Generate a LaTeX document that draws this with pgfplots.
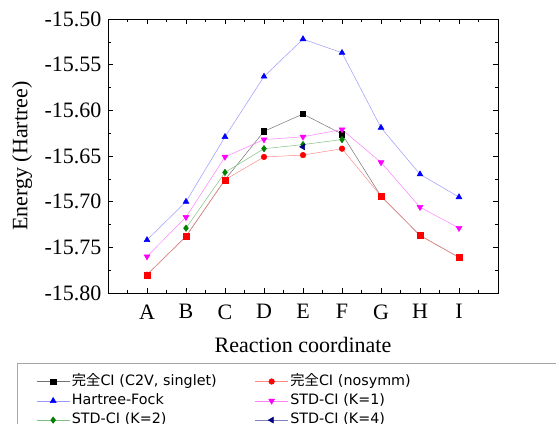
\documentclass[border=0pt]{standalone}
\usepackage{fontspec}
\setmainfont{Liberation Serif}
\newfontfamily\jp{Noto Sans CJK JP}
\newfontfamily\legendfont{DejaVu Sans}
\usepackage{pgfplots}
\pgfplotsset{compat=1.18}
\definecolor{fcBlack}{RGB}{0,0,0}
\definecolor{fcRed}{RGB}{255,0,0}
\definecolor{hfBlue}{RGB}{0,0,255}
\definecolor{kOne}{RGB}{255,0,255}
\definecolor{kTwo}{RGB}{0,128,0}
\definecolor{kFour}{RGB}{0,0,128}

\begin{document}
\begin{tikzpicture}
\begin{axis}[
    scale only axis,
    width=390pt, height=274pt,
    xmin=0, xmax=10,
    ymin=-15.80, ymax=-15.50,
    xtick={1,2,3,4,5,6,7,8,9},
    xticklabels={A,B,C,D,E,F,G,H,I},
    minor xtick={0.5,1.5,2.5,3.5,4.5,5.5,6.5,7.5,8.5,9.5},
    ytick={-15.80,-15.75,-15.70,-15.65,-15.60,-15.55,-15.50},
    minor ytick={-15.775,-15.725,-15.675,-15.625,-15.575,-15.525},
    tick align=inside,
    major tick length=5pt, minor tick length=3pt,
    tick style={black, line width=0.6pt},
    axis line style={line width=0.8pt},
    yticklabel style={/pgf/number format/.cd, fixed, fixed zerofill, precision=2,
        /tikz/.cd, xshift=-3pt},
    xticklabel style={yshift=-8pt},
    /pgf/number format/assume math mode=true,
    ticklabel style={font=\fontsize{22}{24}\selectfont},
    xlabel={Reaction coordinate},
    ylabel={Energy (Hartree)},
    label style={font=\fontsize{22}{24}\selectfont},
    xlabel style={at={(axis description cs:0.5,-0.19)}, anchor=center},
    ylabel style={at={(axis description cs:-0.2205,0.5)}, anchor=center},
    legend columns=2,
    legend cell align=left,
    legend style={at={(-0.2333,-0.2544)}, anchor=north west,
        draw=gray!70, line width=0.8pt,
        font=\legendfont\fontsize{14.3}{18}\selectfont,
        inner xsep=19pt, inner ysep=9.5pt, row sep=1.5pt,
        nodes={inner ysep=2pt, text height=10.5pt, text depth=3.3pt},
        /tikz/column 2/.style={text width=181pt},
        /tikz/column 4/.style={text width=300pt}},
    legend image code/.code={\draw[mark repeat=2,mark phase=2,#1]
        plot coordinates {(0pt,0pt) (16.5pt,0pt) (33pt,0pt)};},
]
% 完全CI (C2V, singlet)
\addplot[black!55, line width=0.5pt, mark=square*, mark size=2.7pt,
    mark options={fill=fcBlack, draw=fcBlack}] coordinates {
    (1,-15.780) (2,-15.738) (3,-15.676) (4,-15.623) (5,-15.604)
    (6,-15.626) (7,-15.694) (8,-15.737) (9,-15.761)};
\addlegendentry{{\jp 完全}CI (C2V, singlet)}
% 完全CI (nosymm)
\addplot[fcRed!45, line width=0.5pt, mark=*, mark size=2.8pt,
    mark options={fill=fcRed, draw=fcRed}] coordinates {
    (1,-15.780) (2,-15.738) (3,-15.676) (4,-15.651) (5,-15.649)
    (6,-15.642) (7,-15.694) (8,-15.737) (9,-15.761)};
\addlegendentry{{\jp 完全}CI (nosymm)}
% Hartree-Fock
\addplot[hfBlue!40, line width=0.5pt, mark=triangle*, mark size=3.4pt,
    mark options={fill=hfBlue, draw=hfBlue}] coordinates {
    (1,-15.742) (2,-15.700) (3,-15.629) (4,-15.563) (5,-15.522)
    (6,-15.537) (7,-15.619) (8,-15.670) (9,-15.695)};
\addlegendentry{Hartree-Fock}
% STD-CI (K=1)
\addplot[kOne!50, line width=0.5pt, mark=triangle*, mark size=3.4pt,
    mark options={fill=kOne, draw=kOne, rotate=180}] coordinates {
    (1,-15.760) (2,-15.717) (3,-15.651) (4,-15.632) (5,-15.629)
    (6,-15.621) (7,-15.657) (8,-15.706) (9,-15.729)};
\addlegendentry{STD-CI (K=1)}
% STD-CI (K=2)
\addplot[kTwo!50, line width=0.5pt, mark=diamond*, mark size=3.2pt,
    mark options={fill=kTwo, draw=kTwo}] coordinates {
    (2,-15.729) (3,-15.668) (4,-15.642) (5,-15.6375) (6,-15.632)};
\addlegendentry{STD-CI (K=2)}
% STD-CI (K=4)
\addplot[kFour!50, line width=0.5pt, mark=triangle*, mark size=3.4pt,
    mark options={fill=kFour, draw=kFour, rotate=90}] coordinates {
    (5,-15.640)};
\addlegendentry{STD-CI (K=4)}
% red square markers where the two full-CI curves coincide
\addplot[only marks, mark=square*, mark size=3pt,
    mark options={fill=fcRed, draw=fcRed}, forget plot] coordinates {
    (1,-15.780) (2,-15.738) (3,-15.676) (7,-15.694) (8,-15.737) (9,-15.761)};
\end{axis}
\pgfresetboundingbox
\useasboundingbox (-108pt,-130pt) rectangle (448pt,293pt);
\end{tikzpicture}
\end{document}
